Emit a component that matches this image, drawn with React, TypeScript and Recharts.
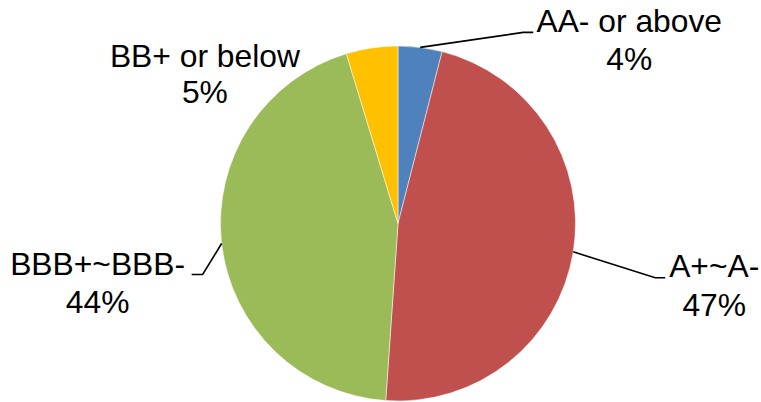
import { PieChart, Pie, Cell } from "recharts";

const categories = ["AA- or above", "A+~A-", "BBB+~BBB-", "BB+ or below"];
const shares = [4.0, 47.1, 44.2, 4.7];
const percentLabels = ["4%", "47%", "44%", "5%"];
const colors = ["#4F81BD", "#C0504D", "#9BBB59", "#FFC000"];

const data = categories.map((name, i) => ({ name, value: shares[i], pct: percentLabels[i] }));

// label placement relative to the slice's outer midpoint
const LABEL_LAYOUT = [
  { line: [[103, -15], [113, -15]], tx: 209, ty: [-15, 23] },
  { line: [[82, 26], [92, 26]], tx: 141, ty: [25, 64] },
  { line: [[-19, 31], [-30, 31]], tx: -124, ty: [31, 69] },
  { line: null, tx: -167, ty: [19, 55] },
];

const RAD = Math.PI / 180;

function renderLabel(props: any) {
  const { cx, cy, midAngle, outerRadius, index } = props;
  const ax = cx + outerRadius * Math.cos(midAngle * RAD);
  const ay = cy - outerRadius * Math.sin(midAngle * RAD);
  const l = LABEL_LAYOUT[index];
  const d = data[index];
  return (
    <g key={`lbl-${index}`}>
      {l.line && (
        <polyline
          points={`${ax},${ay} ${l.line.map(([dx, dy]) => `${ax + dx},${ay + dy}`).join(" ")}`}
          fill="none"
          stroke="#000"
          strokeWidth={1.6}
        />
      )}
      <text x={ax + l.tx} y={ay + l.ty[0]} textAnchor="middle" fontSize={31.8} fill="#000"
        fontFamily="'Liberation Sans', Arial, sans-serif">
        {d.name}
      </text>
      <text x={ax + l.tx} y={ay + l.ty[1]} textAnchor="middle" fontSize={31.8} fill="#000"
        fontFamily="'Liberation Sans', Arial, sans-serif">
        {d.pct}
      </text>
    </g>
  );
}

export default function App() {
  return (
    <div style={{ position: "absolute", left: 0, top: 0, width: 761, height: 402, background: "#fff" }}>
      <PieChart width={761} height={402} margin={{ top: 0, right: 0, bottom: 0, left: 0 }}>
        <Pie
          data={data}
          dataKey="value"
          nameKey="name"
          cx={398}
          cy={223.5}
          outerRadius={177.5}
          startAngle={90}
          endAngle={-270}
          stroke="#fff"
          strokeWidth={0.5}
          label={renderLabel}
          labelLine={false}
          isAnimationActive={false}
        >
          {data.map((d, i) => (
            <Cell key={d.name} fill={colors[i]} />
          ))}
        </Pie>
      </PieChart>
    </div>
  );
}
